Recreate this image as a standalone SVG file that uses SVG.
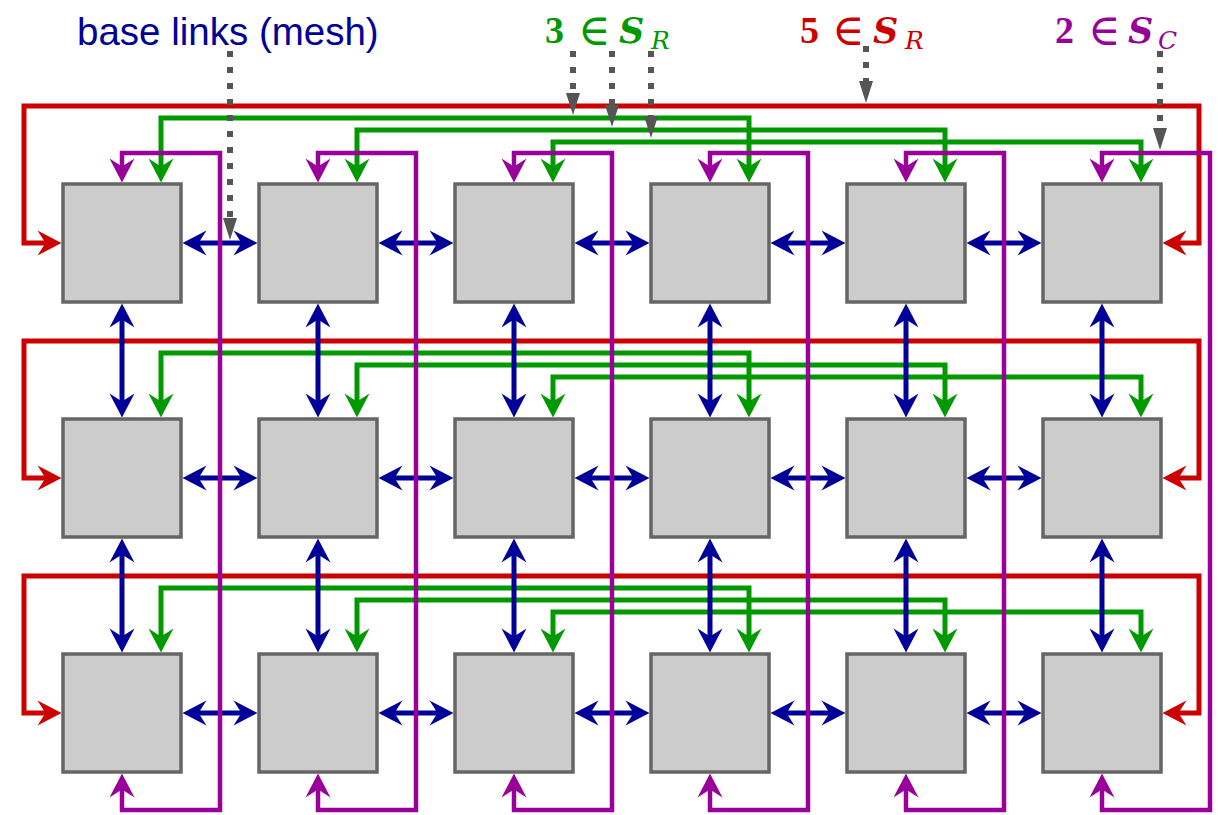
<svg xmlns="http://www.w3.org/2000/svg" width="1218" height="815" viewBox="0 0 1218 815">
<style>
.node{fill:#cccccc;stroke:#666666;stroke-width:3.5}
.blue{fill:none;stroke:#000099;stroke-width:5;marker-start:url(#ab);marker-end:url(#ab)}
.red{fill:none;stroke:#cc0000;stroke-width:5;marker-start:url(#ar);marker-end:url(#ar)}
.green{fill:none;stroke:#009900;stroke-width:5;marker-start:url(#ag);marker-end:url(#ag)}
.purple{fill:none;stroke:#990099;stroke-width:4.5;marker-start:url(#ap);marker-end:url(#ap)}
.dot{fill:none;stroke:#555555;stroke-width:6;stroke-dasharray:6 10;marker-end:url(#ak)}
.lbl{font-family:"Liberation Sans",Arial,sans-serif;font-size:38.5px;fill:#000099}
.d{font-family:"Liberation Serif","DejaVu Serif",serif;font-size:38px;font-weight:bold}
.e{font-family:"DejaVu Serif","Liberation Serif",serif;font-size:44px}
.s{font-family:"DejaVu Serif","Liberation Serif",serif;font-size:35px;font-style:italic;font-weight:bold}
.sub{font-family:"DejaVu Serif","Liberation Serif",serif;font-size:25px;font-style:italic}
</style>
<defs>
<marker id="ab" markerUnits="userSpaceOnUse" markerWidth="30" markerHeight="30" viewBox="-16 -15 30 30" refX="0" refY="0" orient="auto-start-reverse"><path d="M10,0 L-14,-12.5 L-6,0 L-14,12.5 Z" fill="#000099"/></marker>
<marker id="ar" markerUnits="userSpaceOnUse" markerWidth="30" markerHeight="30" viewBox="-16 -15 30 30" refX="0" refY="0" orient="auto-start-reverse"><path d="M10,0 L-14,-12.5 L-6,0 L-14,12.5 Z" fill="#cc0000"/></marker>
<marker id="ag" markerUnits="userSpaceOnUse" markerWidth="30" markerHeight="30" viewBox="-16 -15 30 30" refX="0" refY="0" orient="auto-start-reverse"><path d="M10,0 L-14,-12.5 L-6,0 L-14,12.5 Z" fill="#009900"/></marker>
<marker id="ap" markerUnits="userSpaceOnUse" markerWidth="30" markerHeight="30" viewBox="-16 -15 30 30" refX="0" refY="0" orient="auto-start-reverse"><path d="M10,0 L-14,-12.5 L-6,0 L-14,12.5 Z" fill="#990099"/></marker>
<marker id="ak" markerUnits="userSpaceOnUse" markerWidth="30" markerHeight="20" viewBox="-4 -10 30 20" refX="0" refY="0" orient="auto"><path d="M-2,-7 L20,0 L-2,7 Z" fill="#555555"/></marker>
</defs>

<g id="nodes">
<g id="n11"><rect class="node" x="63" y="184" width="118" height="118"/></g>
<g id="n12"><rect class="node" x="259" y="184" width="118" height="118"/></g>
<g id="n13"><rect class="node" x="455" y="184" width="118" height="118"/></g>
<g id="n14"><rect class="node" x="651" y="184" width="118" height="118"/></g>
<g id="n15"><rect class="node" x="847" y="184" width="118" height="118"/></g>
<g id="n16"><rect class="node" x="1043" y="184" width="118" height="118"/></g>
<g id="n21"><rect class="node" x="63" y="419" width="118" height="118"/></g>
<g id="n22"><rect class="node" x="259" y="419" width="118" height="118"/></g>
<g id="n23"><rect class="node" x="455" y="419" width="118" height="118"/></g>
<g id="n24"><rect class="node" x="651" y="419" width="118" height="118"/></g>
<g id="n25"><rect class="node" x="847" y="419" width="118" height="118"/></g>
<g id="n26"><rect class="node" x="1043" y="419" width="118" height="118"/></g>
<g id="n31"><rect class="node" x="63" y="654" width="118" height="118"/></g>
<g id="n32"><rect class="node" x="259" y="654" width="118" height="118"/></g>
<g id="n33"><rect class="node" x="455" y="654" width="118" height="118"/></g>
<g id="n34"><rect class="node" x="651" y="654" width="118" height="118"/></g>
<g id="n35"><rect class="node" x="847" y="654" width="118" height="118"/></g>
<g id="n36"><rect class="node" x="1043" y="654" width="118" height="118"/></g>
</g>

<g id="connectors">
<g id="red-links">
<path class="red" d="M51.5,243 H24 V106 H1199 V243 H1172.5"/>
<path class="red" d="M51.5,478 H24 V341 H1199 V478 H1172.5"/>
<path class="red" d="M51.5,713 H24 V576 H1199 V713 H1172.5"/>
</g>
<g id="green-links">
<path class="green" d="M161,172.5 V118 H749 V172.5"/>
<path class="green" d="M357,172.5 V130 H945 V172.5"/>
<path class="green" d="M553,172.5 V142 H1141 V172.5"/>
<path class="green" d="M161,407.5 V353 H749 V407.5"/>
<path class="green" d="M357,407.5 V365 H945 V407.5"/>
<path class="green" d="M553,407.5 V377 H1141 V407.5"/>
<path class="green" d="M161,642.5 V588 H749 V642.5"/>
<path class="green" d="M357,642.5 V600 H945 V642.5"/>
<path class="green" d="M553,642.5 V612 H1141 V642.5"/>
</g>
<g id="blue-links">
<path class="blue" d="M192.5,243 H247.5"/>
<path class="blue" d="M388.5,243 H443.5"/>
<path class="blue" d="M584.5,243 H639.5"/>
<path class="blue" d="M780.5,243 H835.5"/>
<path class="blue" d="M976.5,243 H1031.5"/>
<path class="blue" d="M192.5,478 H247.5"/>
<path class="blue" d="M388.5,478 H443.5"/>
<path class="blue" d="M584.5,478 H639.5"/>
<path class="blue" d="M780.5,478 H835.5"/>
<path class="blue" d="M976.5,478 H1031.5"/>
<path class="blue" d="M192.5,713 H247.5"/>
<path class="blue" d="M388.5,713 H443.5"/>
<path class="blue" d="M584.5,713 H639.5"/>
<path class="blue" d="M780.5,713 H835.5"/>
<path class="blue" d="M976.5,713 H1031.5"/>
<path class="blue" d="M122,313.5 V407.5"/>
<path class="blue" d="M318,313.5 V407.5"/>
<path class="blue" d="M514,313.5 V407.5"/>
<path class="blue" d="M710,313.5 V407.5"/>
<path class="blue" d="M906,313.5 V407.5"/>
<path class="blue" d="M1102,313.5 V407.5"/>
<path class="blue" d="M122,548.5 V642.5"/>
<path class="blue" d="M318,548.5 V642.5"/>
<path class="blue" d="M514,548.5 V642.5"/>
<path class="blue" d="M710,548.5 V642.5"/>
<path class="blue" d="M906,548.5 V642.5"/>
<path class="blue" d="M1102,548.5 V642.5"/>
</g>
<g id="purple-links">
<path class="purple" d="M122,172.5 V153 H220 V810 H122 V783.5"/>
<path class="purple" d="M318,172.5 V153 H416 V810 H318 V783.5"/>
<path class="purple" d="M514,172.5 V153 H612 V810 H514 V783.5"/>
<path class="purple" d="M710,172.5 V153 H808 V810 H710 V783.5"/>
<path class="purple" d="M906,172.5 V153 H1004 V810 H906 V783.5"/>
<path class="purple" d="M1102,172.5 V153 H1210 V810 H1102 V783.5"/>
</g>
<g id="pointers">
<path class="dot" d="M230,51 V220"/>
<path class="dot" d="M573,51 V95"/>
<path class="dot" d="M612,51 V107"/>
<path class="dot" d="M651,51 V118"/>
<path class="dot" d="M866,46 V83"/>
<path class="dot" d="M1160,51 V130"/>
</g>
</g>

<g id="labels">
<text class="lbl" x="77" y="45">base links (mesh)</text>
<text fill="#009900"><tspan class="d" x="545" y="43">3</tspan><tspan class="e" x="578" y="45">∈</tspan><tspan class="s" x="619" y="43">S</tspan><tspan class="sub" x="651" y="49">R</tspan></text>
<text fill="#cc0000"><tspan class="d" x="800" y="43">5</tspan><tspan class="e" x="832" y="45">∈</tspan><tspan class="s" x="873" y="43">S</tspan><tspan class="sub" x="905" y="49">R</tspan></text>
<text fill="#990099"><tspan class="d" x="1055" y="43">2</tspan><tspan class="e" x="1088" y="45">∈</tspan><tspan class="s" x="1128" y="43">S</tspan><tspan class="sub" x="1158" y="49">C</tspan></text>
</g>
</svg>
